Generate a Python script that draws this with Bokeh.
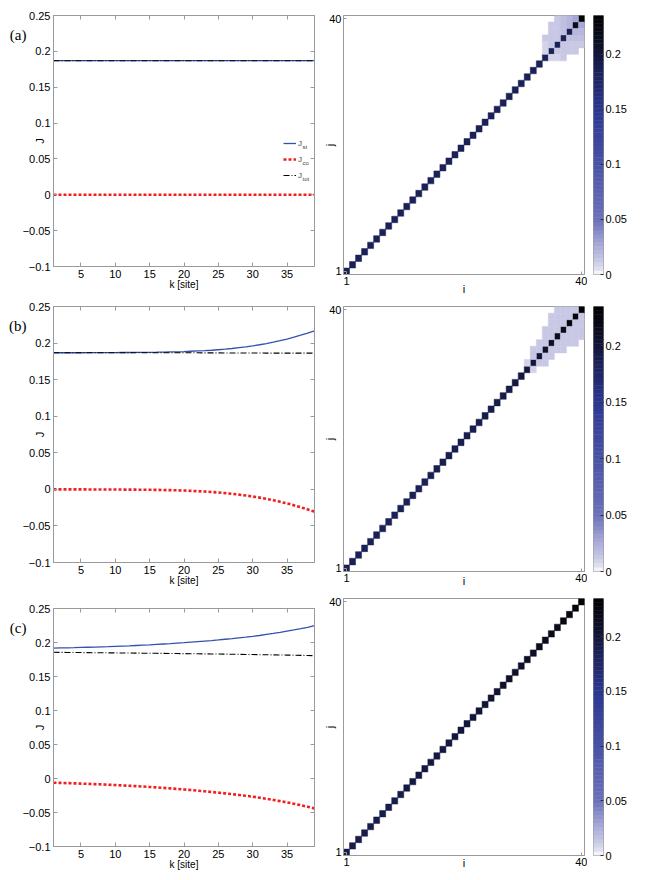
import numpy as np
from bokeh.plotting import figure
from bokeh.layouts import row, column
from bokeh.models import (Range1d, FixedTicker, CustomJSTickFormatter, Label,
                          Legend, LegendItem, LinearAxis, ColumnDataSource,
                          CustomLabelingPolicy)
from bokeh.transform import linear_cmap
from bokeh.embed import file_html
from bokeh.resources import INLINE

# ---------------- data ----------------
k_site = list(range(1, 40))
x_ticks = [5, 10, 15, 20, 25, 30, 35]
j_ticks = [-0.1, -0.05, 0, 0.05, 0.1, 0.15, 0.2, 0.25]
ij_ticks = [1, 40]
cbar_ticks = [0, 0.05, 0.1, 0.15, 0.2]
cbar_max = 0.235
panel_tags = ["(a)", "(b)", "(c)"]

jst_a = [0.1870, 0.1870, 0.1870, 0.1870, 0.1870, 0.1870, 0.1870, 0.1870, 0.1870, 0.1870,
         0.1870, 0.1870, 0.1870, 0.1870, 0.1870, 0.1870, 0.1870, 0.1870, 0.1870, 0.1870,
         0.1870, 0.1870, 0.1870, 0.1870, 0.1870, 0.1870, 0.1870, 0.1870, 0.1870, 0.1870,
         0.1870, 0.1870, 0.1870, 0.1870, 0.1870, 0.1870, 0.1870, 0.1870, 0.1870]
jco_a = [0.0, 0.0, 0.0, 0.0, 0.0, 0.0, 0.0, 0.0, 0.0, 0.0,
         0.0, 0.0, 0.0, 0.0, 0.0, 0.0, 0.0, 0.0, 0.0, 0.0,
         0.0, 0.0, 0.0, 0.0, 0.0, 0.0, 0.0, 0.0, 0.0, 0.0,
         0.0, 0.0, 0.0, 0.0, 0.0, 0.0, 0.0, 0.0, 0.0]
jtot_a = [0.1870, 0.1870, 0.1870, 0.1870, 0.1870, 0.1870, 0.1870, 0.1870, 0.1870, 0.1870,
          0.1870, 0.1870, 0.1870, 0.1870, 0.1870, 0.1870, 0.1870, 0.1870, 0.1870, 0.1870,
          0.1870, 0.1870, 0.1870, 0.1870, 0.1870, 0.1870, 0.1870, 0.1870, 0.1870, 0.1870,
          0.1870, 0.1870, 0.1870, 0.1870, 0.1870, 0.1870, 0.1870, 0.1870, 0.1870]

jst_b = [0.1868, 0.1868, 0.1868, 0.1868, 0.1868, 0.1869, 0.1869, 0.1869, 0.1870, 0.1870,
         0.1871, 0.1871, 0.1872, 0.1873, 0.1874, 0.1875, 0.1877, 0.1879, 0.1881, 0.1884,
         0.1888, 0.1892, 0.1896, 0.1902, 0.1909, 0.1916, 0.1926, 0.1937, 0.1948, 0.1962,
         0.1977, 0.1993, 0.2012, 0.2033, 0.2055, 0.2080, 0.2107, 0.2136, 0.2167]
jco_b = [0.0000, 0.0000, 0.0000, 0.0000, 0.0000, -0.0001, -0.0001, -0.0001, -0.0002, -0.0002,
         -0.0003, -0.0003, -0.0004, -0.0005, -0.0006, -0.0007, -0.0009, -0.0011, -0.0013, -0.0016,
         -0.0021, -0.0025, -0.0030, -0.0036, -0.0043, -0.0051, -0.0061, -0.0072, -0.0084, -0.0098,
         -0.0113, -0.0130, -0.0149, -0.0170, -0.0193, -0.0218, -0.0245, -0.0274, -0.0305]
jtot_b = [0.1868, 0.1868, 0.1868, 0.1868, 0.1868, 0.1868, 0.1868, 0.1868, 0.1868, 0.1868,
          0.1868, 0.1868, 0.1868, 0.1868, 0.1868, 0.1868, 0.1868, 0.1868, 0.1868, 0.1868,
          0.1867, 0.1867, 0.1866, 0.1866, 0.1866, 0.1865, 0.1865, 0.1865, 0.1864, 0.1864,
          0.1864, 0.1863, 0.1863, 0.1863, 0.1862, 0.1862, 0.1862, 0.1862, 0.1862]

jst_c = [0.1918, 0.1920, 0.1922, 0.1924, 0.1927, 0.1930, 0.1933, 0.1936, 0.1939, 0.1943,
         0.1947, 0.1951, 0.1956, 0.1961, 0.1966, 0.1972, 0.1978, 0.1984, 0.1991, 0.1997,
         0.2005, 0.2013, 0.2021, 0.2029, 0.2038, 0.2048, 0.2057, 0.2068, 0.2078, 0.2090,
         0.2103, 0.2118, 0.2133, 0.2149, 0.2167, 0.2185, 0.2204, 0.2224, 0.2247]
jco_c = [-0.0062, -0.0065, -0.0068, -0.0071, -0.0075, -0.0079, -0.0083, -0.0087, -0.0091, -0.0096,
         -0.0101, -0.0106, -0.0112, -0.0118, -0.0124, -0.0131, -0.0138, -0.0145, -0.0153, -0.0161,
         -0.0170, -0.0179, -0.0188, -0.0198, -0.0208, -0.0219, -0.0230, -0.0242, -0.0254, -0.0267,
         -0.0282, -0.0298, -0.0315, -0.0333, -0.0352, -0.0372, -0.0393, -0.0415, -0.0440]
jtot_c = [0.1856, 0.1855, 0.1854, 0.1853, 0.1852, 0.1851, 0.1850, 0.1849, 0.1848, 0.1847,
          0.1846, 0.1845, 0.1844, 0.1843, 0.1842, 0.1841, 0.1840, 0.1839, 0.1838, 0.1836,
          0.1835, 0.1834, 0.1833, 0.1831, 0.1830, 0.1829, 0.1827, 0.1826, 0.1824, 0.1823,
          0.1821, 0.1820, 0.1818, 0.1816, 0.1815, 0.1813, 0.1811, 0.1809, 0.1807]

# diagonal of the i-j map (i = j = 1..40)
diag_a = [0.187, 0.187, 0.187, 0.187, 0.187, 0.187, 0.187, 0.187, 0.187, 0.187,
          0.187, 0.187, 0.187, 0.187, 0.187, 0.187, 0.187, 0.187, 0.187, 0.187,
          0.187, 0.187, 0.187, 0.187, 0.187, 0.187, 0.187, 0.187, 0.187, 0.187,
          0.187, 0.187, 0.187, 0.187, 0.187, 0.187, 0.187, 0.190, 0.215, 0.235]
diag_b = [0.187, 0.187, 0.187, 0.187, 0.187, 0.187, 0.187, 0.187, 0.187, 0.187,
          0.187, 0.187, 0.187, 0.187, 0.188, 0.188, 0.188, 0.188, 0.188, 0.189,
          0.189, 0.190, 0.190, 0.191, 0.191, 0.192, 0.193, 0.194, 0.195, 0.197,
          0.199, 0.201, 0.204, 0.208, 0.212, 0.216, 0.220, 0.225, 0.230, 0.235]
diag_c = [0.192, 0.192, 0.192, 0.192, 0.193, 0.193, 0.193, 0.194, 0.194, 0.194,
          0.195, 0.195, 0.196, 0.196, 0.197, 0.197, 0.198, 0.198, 0.199, 0.200,
          0.201, 0.201, 0.202, 0.203, 0.204, 0.205, 0.206, 0.207, 0.208, 0.209,
          0.210, 0.212, 0.213, 0.215, 0.217, 0.219, 0.221, 0.223, 0.226, 0.235]

# off-diagonal corner block: rows j = 40 (top) .. 31, columns i = 31 .. 40
block_i0 = 31
block_a = [
    [0, 0, 0, 0, 0, 0.014, 0.016, 0.020, 0.028, 0],
    [0, 0, 0, 0, 0.013, 0.014, 0.016, 0.020, 0, 0.028],
    [0, 0, 0, 0, 0.012, 0.013, 0.015, 0, 0.020, 0.020],
    [0, 0, 0, 0.012, 0.012, 0.013, 0, 0.015, 0.016, 0.016],
    [0, 0, 0, 0.011, 0.012, 0, 0.013, 0.013, 0.014, 0.014],
    [0, 0, 0, 0.011, 0, 0.012, 0.012, 0.012, 0.013, 0],
    [0, 0, 0, 0, 0.011, 0.011, 0.012, 0, 0, 0],
    [0, 0, 0, 0, 0, 0, 0, 0, 0, 0],
    [0, 0, 0, 0, 0, 0, 0, 0, 0, 0],
    [0, 0, 0, 0, 0, 0, 0, 0, 0, 0],
]
block_b = [
    [0, 0, 0, 0, 0, 0.014, 0.014, 0.014, 0.014, 0],
    [0, 0, 0, 0, 0.013, 0.014, 0.014, 0.014, 0, 0.014],
    [0, 0, 0, 0, 0.013, 0.013, 0.014, 0, 0.014, 0.014],
    [0, 0, 0, 0.013, 0.013, 0.013, 0, 0.014, 0.014, 0.014],
    [0, 0, 0, 0.013, 0.013, 0, 0.013, 0.013, 0.014, 0.014],
    [0, 0, 0.012, 0.013, 0, 0.013, 0.013, 0.013, 0.013, 0],
    [0, 0.012, 0.012, 0, 0.013, 0.013, 0.013, 0, 0, 0],
    [0, 0.012, 0, 0.012, 0.012, 0, 0, 0, 0, 0],
    [0.011, 0, 0.012, 0.012, 0, 0, 0, 0, 0, 0],
    [0, 0.011, 0, 0, 0, 0, 0, 0, 0, 0],
]
block_c = None

# ---------------- style ----------------
FONT = "Liberation Sans"
SERIF = "Liberation Serif"
GRAY = "#9a9a9a"
BLUE = "#3550b0"
RED = "#f02020"

stop_pos = [0.0, 0.02, 0.06, 0.12, 0.21, 0.42, 0.64, 0.80, 0.89, 1.0]
stop_col = ["#ffffff", "#e0e0f0", "#c4c4e3", "#a4a6d6", "#6c72ba",
            "#4a54a6", "#2c3790", "#1a1f52", "#0e1028", "#000000"]


def _rgb(h):
    return [int(h[1:3], 16), int(h[3:5], 16), int(h[5:7], 16)]


N_COL = 64
_tt = (np.arange(N_COL) + 0.5) / N_COL
_rgbs = np.array([_rgb(c) for c in stop_col], dtype=float)
palette = []
for t in _tt:
    r = np.interp(t, stop_pos, _rgbs[:, 0])
    g = np.interp(t, stop_pos, _rgbs[:, 1])
    b = np.interp(t, stop_pos, _rgbs[:, 2])
    palette.append("#%02x%02x%02x" % (int(round(r)), int(round(g)), int(round(b))))

FMT = r"""
var s = tick.toFixed(2);
s = s.replace(/0+$/, '').replace(/\.$/, '');
if (s === '-0' || s === '') { s = '0'; }
return s.replace('-', '\u2212');
"""

NO_LABELS_JS = """
for (const i of indices) { indices.unset(i) }
return indices
"""


def style_axis(ax, tick_in=4, size="11px"):
    ax.axis_line_color = GRAY
    ax.major_tick_line_color = GRAY
    ax.major_tick_in = tick_in
    ax.major_tick_out = 0
    ax.minor_tick_line_color = None
    ax.major_label_text_font = FONT
    ax.major_label_text_font_size = size
    ax.major_label_text_color = "black"
    ax.axis_label_text_font = FONT
    ax.axis_label_text_font_style = "normal"
    ax.axis_label_text_color = "black"


def base_fig(width, height, xr, yr, left, right, top, bottom, **kw):
    p = figure(width=width, height=height, x_range=xr, y_range=yr,
               output_backend="svg", toolbar_location=None, title_location=None,
               min_border_left=left, min_border_right=right,
               min_border_top=top, min_border_bottom=bottom,
               background_fill_color="white", border_fill_color="white",
               outline_line_color=GRAY, **kw)
    p.xgrid.visible = False
    p.ygrid.visible = False
    return p


def line_panel(tag, jst, jco, jtot, h, top, bottom, with_legend=False):
    fh = h - top - bottom
    p = base_fig(320, h, Range1d(1, 39), Range1d(-0.1, 0.25), 53, 5, top, bottom)
    r_st = p.line(k_site, jst, line_color=BLUE, line_width=1.3)
    r_co = p.line(k_site, jco, line_color=RED, line_width=2.6, line_dash="3 2")
    r_tot = p.line(k_site, jtot, line_color="black", line_width=1.1, line_dash="6 2 1 2")
    p.xaxis.ticker = FixedTicker(ticks=x_ticks)
    p.yaxis.ticker = FixedTicker(ticks=j_ticks)
    p.yaxis.formatter = CustomJSTickFormatter(code=FMT)
    for ax in list(p.xaxis) + list(p.yaxis):
        style_axis(ax)
    p.xaxis.axis_label = "k [site]"
    p.xaxis.axis_label_text_font_size = "10px"
    p.xaxis.major_label_standoff = 3
    p.xaxis.axis_label_standoff = -2
    p.yaxis.major_label_standoff = 3
    p.yaxis.axis_label = "J"
    p.yaxis.axis_label_text_font_size = "11px"
    p.yaxis.axis_label_standoff = -26
    # tick marks on the top and right edges (box style), without labels
    for loc, tk in (("above", x_ticks), ("right", j_ticks)):
        bx = LinearAxis(ticker=FixedTicker(ticks=tk),
                        major_label_policy=CustomLabelingPolicy(code=NO_LABELS_JS))
        style_axis(bx)
        bx.major_label_text_font_size = "1px"
        bx.major_label_standoff = 0
        p.add_layout(bx, loc)
    # panel tag, drawn as the single label of an extra, line-less axis
    tag_y = 0.25 - 19.0 / fh * 0.35
    tag_ax = LinearAxis(ticker=FixedTicker(ticks=[tag_y]),
                        formatter=CustomJSTickFormatter(code="return '%s';" % tag))
    tag_ax.axis_line_color = None
    tag_ax.major_tick_line_color = None
    tag_ax.minor_tick_line_color = None
    tag_ax.major_label_text_font = SERIF
    tag_ax.major_label_text_font_size = "15px"
    tag_ax.major_label_text_color = "black"
    tag_ax.major_label_standoff = -2
    p.add_layout(tag_ax, "left")
    if with_legend:
        leg = Legend(items=[LegendItem(label="J", renderers=[r_st]),
                            LegendItem(label="J", renderers=[r_co]),
                            LegendItem(label="J", renderers=[r_tot])],
                     location=(230, 83), padding=0, spacing=0, margin=0,
                     glyph_width=13, glyph_height=16, label_height=16, label_width=4,
                     label_standoff=2, label_text_font=FONT, label_text_font_size="8px",
                     border_line_color=None, background_fill_alpha=0)
        p.add_layout(leg)
        for n, sub in enumerate(["st", "co", "tot"]):
            p.add_layout(Label(x=249, y=83 + 48 - 8 - 16 * n - 3, x_units="screen",
                               y_units="screen", text=sub, text_font=FONT,
                               text_font_size="6px", text_align="left",
                               text_baseline="middle"))
    return p


def cells(diag, block):
    xs, ys, vs = [], [], []
    for n, v in enumerate(diag):
        xs.append(n + 1)
        ys.append(n + 1)
        vs.append(v)
    if block is not None:
        for r, vals in enumerate(block):
            for c, v in enumerate(vals):
                if v > 0:
                    xs.append(block_i0 + c)
                    ys.append(40 - r)
                    vs.append(v)
    return dict(i=xs, j=ys, v=vs)


def heat_panel(diag, block, h, top, bottom, i_standoff):
    p = base_fig(267, h, Range1d(0.5, 40.5), Range1d(0.5, 40.5), 23, 3, top, bottom)
    cm = linear_cmap("v", palette, 0, cbar_max)
    p.rect(x="i", y="j", width=1, height=1, source=ColumnDataSource(cells(diag, block)),
           fill_color=cm, line_color=cm, line_width=0.5)
    p.xaxis.ticker = FixedTicker(ticks=ij_ticks)
    p.yaxis.ticker = FixedTicker(ticks=ij_ticks)
    for ax in list(p.xaxis) + list(p.yaxis):
        style_axis(ax, tick_in=3)
        ax.major_label_standoff = 2
        ax.axis_label_text_font_size = "11px"
    p.xaxis.axis_label = "i"
    p.xaxis.axis_label_standoff = i_standoff
    p.yaxis.axis_label = "j"
    p.yaxis.axis_label_standoff = -10
    return p


def cbar_panel(h, top, bottom):
    p = base_fig(59, h, Range1d(0, 1), Range1d(0, cbar_max), 6, 43, top, bottom,
                 x_axis_location=None, y_axis_location=None)
    edges = np.linspace(0, cbar_max, N_COL + 1)
    p.quad(left=0, right=1, bottom=edges[:-1], top=edges[1:],
           fill_color=palette, line_color=palette, line_width=0.5)
    ax = LinearAxis(ticker=FixedTicker(ticks=cbar_ticks),
                    formatter=CustomJSTickFormatter(code=FMT))
    style_axis(ax, tick_in=3)
    ax.axis_line_color = None
    ax.major_tick_line_color = "#333333"
    ax.major_label_standoff = 2
    p.add_layout(ax, "right")
    return p


series = [(jst_a, jco_a, jtot_a, diag_a, block_a),
          (jst_b, jco_b, jtot_b, diag_b, block_b),
          (jst_c, jco_c, jtot_c, diag_c, block_c)]
# (row height, left top, left bottom, right top, right bottom, i-label standoff)
geom = [(298, 15, 32, 15, 24, -5),
        (292, 8, 28, 8, 19, -10),
        (282, 18, 26, 8, 17, -12)]

left_col, heat_col, cbar_col = [], [], []
for n, ((jst, jco, jtot, dg, blk), (h, lt, lb, rt, rb, istd)) in enumerate(zip(series, geom)):
    left_col.append(line_panel(panel_tags[n], jst, jco, jtot, h, lt, lb, with_legend=(n == 0)))
    heat_col.append(heat_panel(dg, blk, h, rt, rb, istd))
    cbar_col.append(cbar_panel(h, rt, rb))

layout = row(column(*left_col, spacing=0), column(*heat_col, spacing=0),
             column(*cbar_col, spacing=0), spacing=0)

open("out.html", "w").write(file_html(layout, INLINE, title="currents"))
